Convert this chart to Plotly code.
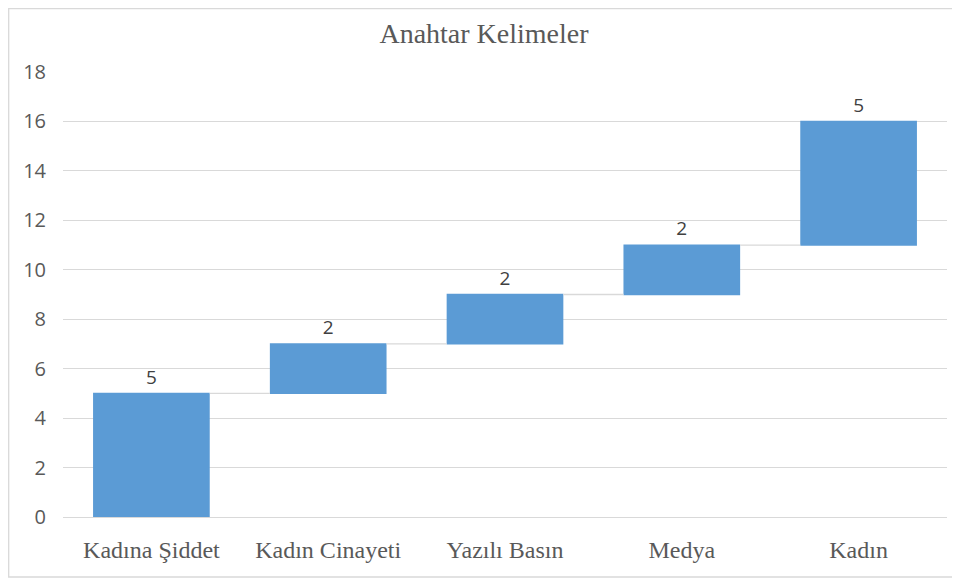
import plotly.graph_objects as go

categories = ["Kadına Şiddet", "Kadın Cinayeti", "Yazılı Basın", "Medya", "Kadın"]
values = [5, 2, 2, 2, 5]
yticks = list(range(0, 19, 2))

# page has an 8px body margin; figure sized to fit the window
W, H = 952, 571
L, R, T, B = 55, 13, 64, 62
pw, ph = W - L - R, H - T - B

fig = go.Figure(go.Waterfall(
    x=categories,
    y=values,
    measure=["relative"] * len(values),
    text=[str(v) for v in values],
    textposition="outside",
    textfont=dict(family="Open Sans", size=19, color="#404040"),
    increasing=dict(marker=dict(color="#5B9BD5")),
    connector=dict(line=dict(color="#d9d9d9", width=1.3)),
    cliponaxis=False,
    hoverinfo="skip",
))

fig.update_layout(
    width=W, height=H,
    margin=dict(l=L, r=R, t=T, b=B),
    paper_bgcolor="white", plot_bgcolor="white",
    showlegend=False,
    waterfallgap=0.34,
    title=dict(text="Anahtar Kelimeler", x=0.5, xanchor="center", y=1 - 25 / H, yanchor="middle",
               font=dict(family="Liberation Serif", size=28, color="#595959")),
    xaxis=dict(showgrid=False, showline=True, linecolor="#d9d9d9", linewidth=1.3,
               tickfont=dict(family="Liberation Serif", size=24, color="#595959"),
               ticks="outside", ticklen=11, tickcolor="rgba(0,0,0,0)"),
    yaxis=dict(range=[0, 18], tickvals=yticks, showgrid=True, gridcolor="#d9d9d9", gridwidth=1.3,
               zeroline=False, showline=False,
               tickfont=dict(family="Open Sans", size=20, color="#595959"),
               ticks="outside", ticklen=12, tickcolor="rgba(0,0,0,0)"),
    shapes=[dict(type="rect", xref="paper", yref="paper",
                 x0=(0.7 - L) / pw, x1=(947 - L) / pw,
                 y0=(H - B - 569) / ph, y1=1 + (T - 0.7) / ph,
                 line=dict(color="#d9d9d9", width=1.3), fillcolor="rgba(0,0,0,0)", layer="below")],
)

fig.write_html("out.html")
